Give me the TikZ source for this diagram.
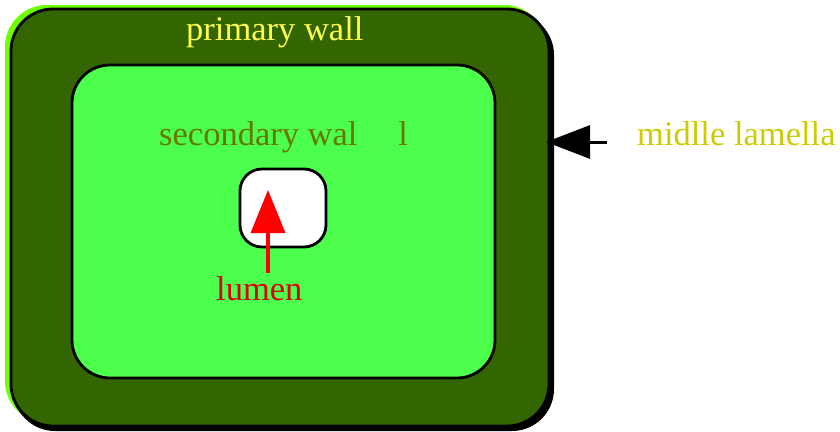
\documentclass[tikz,border=0pt]{standalone}
\usepackage{fontspec}
\setmainfont{Liberation Serif}
\usetikzlibrary{arrows.meta}
\definecolor{wallgreen}{RGB}{51,102,0}
\definecolor{cellgreen}{RGB}{76,255,76}
\definecolor{rimgreen}{RGB}{110,255,0}
\definecolor{primtext}{RGB}{255,255,80}
\definecolor{sectext}{RGB}{102,120,0}
\definecolor{lamtext}{RGB}{204,204,0}
\definecolor{lumtext}{RGB}{220,0,0}
\tikzset{
  cellbox/.style={draw=black, line width=2.8pt, rectangle, inner sep=0pt},
  label text/.style={anchor=base west, inner sep=0pt, font=\fontsize{34.5}{40}\selectfont},
}
\begin{document}
\begin{tikzpicture}[x=1pt, y=-1pt]
\useasboundingbox (0,0) rectangle (840,431);
% rim and drop shadow of the cell wall
\fill[rimgreen, rounded corners=42pt] (5,5) rectangle (546,423);
\fill[black, rounded corners=42pt] (13,13) rectangle (554,431);
% primary wall
\node[cellbox, fill=wallgreen, rounded corners=42pt, minimum width=538pt, minimum height=417pt] (primary) at (280,217.5) {};
% secondary wall
\node[cellbox, fill=cellgreen, rounded corners=38pt, minimum width=423pt, minimum height=313pt] (secondary) at (283.5,221.5) {};
% lumen
\node[cellbox, fill=white, rounded corners=22pt, minimum width=86pt, minimum height=78pt] (lumen) at (283,208) {};
% labels
\node[label text, text=primtext] (primlbl) at (186,40) {primary wall};
\node[label text, text=sectext] (seclbl) at (159,145) {secondary wal\hspace{41pt}l};
\node[label text, text=lamtext] (lamlbl) at (637,145) {midlle lamella};
\node[label text, text=lumtext] (lumlbl) at (216,300) {lumen};
% pointers
\coordinate (lumtip) at (268,190);
\coordinate (lumfoot) at (268,273);
\draw[red, line width=3.5pt, -{Triangle[length=43pt, width=34pt]}] (lumfoot) -- (lumtip);
\coordinate (lamtail) at (607,142);
\coordinate (lamtip) at (546,142);
\draw[black, line width=3pt, -{Triangle[length=44pt, width=33pt]}] (lamtail) -- (lamtip);
\end{tikzpicture}
\end{document}
